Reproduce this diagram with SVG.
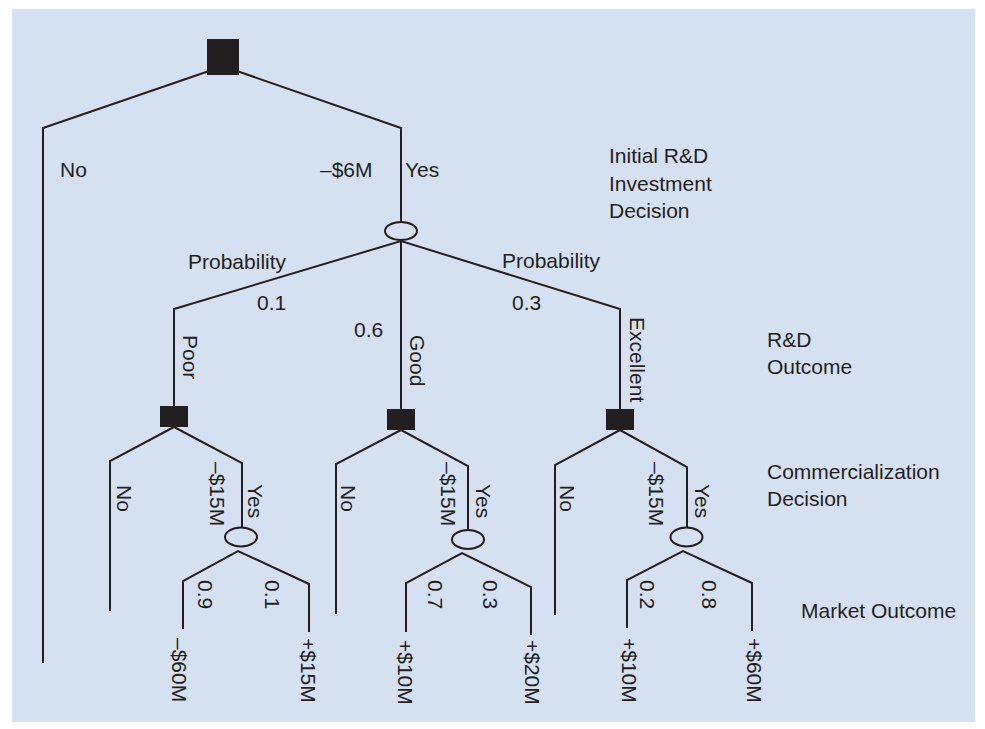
<svg xmlns="http://www.w3.org/2000/svg" width="985" height="729" viewBox="0 0 985 729">
<style>
.bg{fill:#d5e0f0}
.ln{fill:none;stroke:#231f20;stroke-width:2;stroke-linejoin:miter}
.dec{fill:#231f20}
.ch{fill:#d5e0f0;stroke:#231f20;stroke-width:2}
text{font-family:"Liberation Sans",Arial,sans-serif;font-size:21px;fill:#231f20}
</style>
<rect class="bg" x="12" y="9" width="963" height="713"/>
<g id="connectors">
<polyline class="ln" points="212,70 43,128 43,663"/>
<polyline class="ln" points="234,70 401,128 401,222"/>
<polyline class="ln" points="174,406 174,309 401,241 620,309 620,409"/>
<line class="ln" x1="401" y1="240" x2="401" y2="409"/>
<polyline class="ln" points="110,611 110,461 174,427 242,463 242,527"/>
<polyline class="ln" points="183,629 183,581 238,551 309,584 309,632"/>
<polyline class="ln" points="336,614 336,464 401,430 468,466 468,530"/>
<polyline class="ln" points="406,632 406,583 462,553 531,587 531,635"/>
<polyline class="ln" points="555,615 555,465 620,430 687,467 687,527"/>
<polyline class="ln" points="627,628 627,580 683,551 752,583 752,631"/>
</g>
<g id="root-decision"><rect class="dec" x="207" y="39" width="32" height="36"/></g>
<g id="rd-chance"><ellipse class="ch" cx="401" cy="231" rx="16" ry="9"/></g>
<g id="poor-decision"><rect class="dec" x="160" y="406" width="28" height="21"/></g>
<g id="good-decision"><rect class="dec" x="387" y="409" width="28" height="21"/></g>
<g id="excellent-decision"><rect class="dec" x="606" y="409" width="28" height="21"/></g>
<g id="poor-chance"><ellipse class="ch" cx="241" cy="537" rx="16" ry="9.5"/></g>
<g id="good-chance"><ellipse class="ch" cx="468" cy="539.5" rx="16" ry="9.5"/></g>
<g id="excellent-chance"><ellipse class="ch" cx="686.5" cy="537" rx="16" ry="9.5"/></g>
<g id="labels">
<text x="60" y="177">No</text>
<text x="320" y="177">–$6M</text>
<text x="405" y="177">Yes</text>
<text x="188" y="269">Probability</text>
<text x="502" y="268">Probability</text>
<text x="257" y="310">0.1</text>
<text x="354" y="337">0.6</text>
<text x="512" y="310">0.3</text>
<text transform="translate(183,335) rotate(90)">Poor</text>
<text transform="translate(410,335) rotate(90)">Good</text>
<text transform="translate(630,317) rotate(90)">Excellent</text>
<text transform="translate(117,485) rotate(90)">No</text>
<text transform="translate(210,462) rotate(90)">–$15M</text>
<text transform="translate(248,484) rotate(90)">Yes</text>
<text transform="translate(198,580) rotate(90)">0.9</text>
<text transform="translate(265,580) rotate(90)">0.1</text>
<text transform="translate(172,638) rotate(90)">–$60M</text>
<text transform="translate(301,638) rotate(90)">+$15M</text>
<text transform="translate(341,485) rotate(90)">No</text>
<text transform="translate(441,462) rotate(90)">–$15M</text>
<text transform="translate(476,484) rotate(90)">Yes</text>
<text transform="translate(428,580) rotate(90)">0.7</text>
<text transform="translate(483,580) rotate(90)">0.3</text>
<text transform="translate(398,640) rotate(90)">+$10M</text>
<text transform="translate(525,640) rotate(90)">+$20M</text>
<text transform="translate(560,485) rotate(90)">No</text>
<text transform="translate(649,462) rotate(90)">–$15M</text>
<text transform="translate(695,484) rotate(90)">Yes</text>
<text transform="translate(640,580) rotate(90)">0.2</text>
<text transform="translate(702,580) rotate(90)">0.8</text>
<text transform="translate(622,638) rotate(90)">+$10M</text>
<text transform="translate(747,638) rotate(90)">+$60M</text>
</g>
<g id="stage-labels">
<text x="609" y="163">Initial R&amp;D</text>
<text x="609" y="191">Investment</text>
<text x="609" y="218">Decision</text>
<text x="767" y="347">R&amp;D</text>
<text x="767" y="374">Outcome</text>
<text x="767" y="479">Commercialization</text>
<text x="767" y="506">Decision</text>
<text x="801" y="618">Market Outcome</text>
</g>
</svg>
